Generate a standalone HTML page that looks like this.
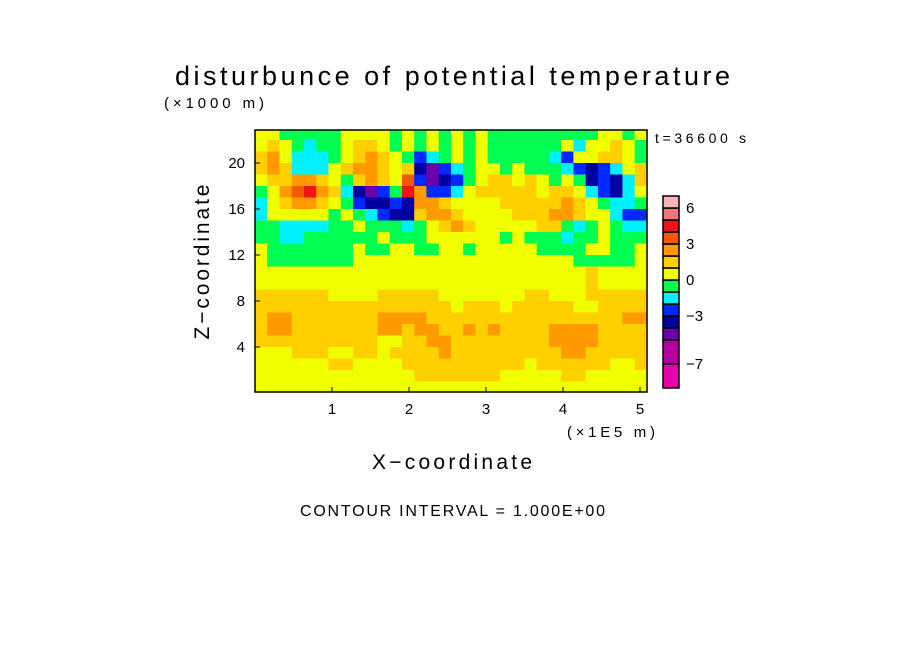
<!DOCTYPE html>
<html><head><meta charset="utf-8"><style>
body{margin:0;background:#fff;}
svg text{font-family:"Liberation Sans",sans-serif;fill:#000;}
</style></head><body>
<svg id="chart" width="904" height="654" viewBox="0 0 904 654" xmlns="http://www.w3.org/2000/svg">
<defs><clipPath id="pc"><rect x="255" y="130" width="392" height="262"/></clipPath></defs>
<text x="175" y="85" font-size="27" textLength="555" lengthAdjust="spacing">disturbunce of potential temperature</text>
<text x="164" y="108" font-size="15" textLength="100" lengthAdjust="spacing">(×1000 m)</text>
<text x="655" y="143" font-size="14" textLength="91" lengthAdjust="spacing">t=36600 s</text>
<text x="0" y="0" font-size="21" text-anchor="middle" textLength="155" lengthAdjust="spacing" transform="translate(209,262) rotate(-90)">Z−coordinate</text>
<text x="372" y="469" font-size="21" textLength="160" lengthAdjust="spacing">X−coordinate</text>
<text x="567" y="437" font-size="15" textLength="88" lengthAdjust="spacing">(×1E5 m)</text>
<text x="300" y="516" font-size="16" textLength="305" lengthAdjust="spacing">CONTOUR INTERVAL = 1.000E+00</text>
<g id="field" clip-path="url(#pc)"></g>
<g id="axes"></g>
<g id="cbar"></g>
</svg>
<script>
const xTicks=[1,2,3,4,5];
const zTicks=[4,8,12,16,20];
const cbarLevels=[-9,-7,-5,-4,-3,-2,-1,0,1,2,3,4,5,6,7];
const cbarLabels=[6,3,0,-3,-7];
const levelColors={"-8":"#e600aa","-7":"#e600aa","-6":"#b400a0","-5":"#6e00aa","-4":"#0000a0","-3":"#0028ff","-2":"#00f0ff","-1":"#00ff50","0":"#f0ff00","1":"#ffd000","2":"#ff9a00","3":"#f05a00","4":"#f01414","5":"#f07878","6":"#f5b4b4"};
const gridCols=32;
const xMax=5.09;
const zTop=23;
const fieldRows=[
[0,0,-1,-1,-1,-1,-1,0,0,0,0,-1,0,-1,0,-1,0,-1,0,-1,-1,-1,-1,-1,-1,-1,-1,-1,0,0,-1,0],
[0,1,0,-1,-2,-1,-1,0,1,1,0,-1,0,-1,0,-1,0,-1,0,-1,-1,-1,-1,-1,-1,0,-2,0,0,1,0,-1],
[1,2,0,-2,-2,-2,-1,0,1,2,1,0,-1,-3,-2,-1,0,-1,0,-1,-1,-1,-1,-1,-2,-3,0,0,1,1,0,-1],
[1,2,1,-2,-2,-2,0,1,2,2,1,0,1,-4,-5,-3,-2,-1,0,0,-1,0,-1,-1,-1,-2,-3,-4,-3,-2,0,1],
[0,1,1,2,2,1,0,-1,1,2,1,0,3,-3,-5,-4,-3,-1,0,1,1,0,1,0,-1,0,-1,-4,-3,-4,-2,1],
[-1,0,2,3,4,2,1,-2,-4,-5,-3,-1,4,2,-3,-3,-2,0,1,1,1,1,1,0,1,1,0,-2,-3,-4,-2,0],
[-2,0,1,2,2,1,0,-1,-3,-4,-4,-3,-4,2,2,1,0,0,0,0,1,1,1,1,1,2,1,0,-1,-2,-2,-1],
[-2,0,0,0,0,0,-1,0,-1,-2,-3,-4,-4,1,2,2,1,0,0,0,0,1,1,1,2,2,1,0,0,-2,-3,-3],
[-1,-1,-2,-2,-2,-2,-1,-1,0,-1,-1,-1,-2,-1,0,1,2,1,0,0,0,0,0,1,1,-1,-2,-1,0,-1,-2,-2],
[-1,-1,-2,-2,-1,-1,-1,-1,-1,-1,0,-1,-1,-1,0,0,0,0,0,0,-1,0,-1,-1,-1,-2,-1,-1,0,-1,-1,-1],
[0,-1,-1,-1,-1,-1,-1,-1,0,-1,-1,0,0,-1,-1,0,0,-1,0,0,0,0,0,-1,-1,-1,-1,0,0,-1,-1,0],
[0,-1,-1,-1,-1,-1,-1,-1,0,0,0,0,0,0,0,0,0,0,0,0,0,0,0,0,0,0,-1,-1,-1,-1,-1,0],
[0,0,0,0,0,0,0,0,0,0,0,0,0,0,0,0,0,0,0,0,0,0,0,0,0,0,0,1,0,0,0,0],
[0,0,0,0,0,0,0,0,0,0,0,0,0,0,0,0,0,0,0,0,0,0,0,0,0,0,0,1,0,0,0,0],
[1,1,1,1,1,1,0,0,0,0,1,1,1,1,1,0,0,0,0,0,0,0,1,1,0,0,0,1,1,1,1,1],
[1,1,1,1,1,1,1,1,1,1,1,1,1,1,1,1,0,1,1,1,0,1,1,1,1,1,0,0,1,1,1,1],
[1,2,2,1,1,1,1,1,1,1,2,2,2,2,1,1,1,1,1,1,1,1,1,1,1,1,1,1,1,1,2,2],
[1,2,2,1,1,1,1,1,1,1,2,2,1,2,2,1,1,2,1,2,1,1,1,1,2,2,2,2,1,1,1,1],
[1,1,1,1,1,1,1,1,1,1,0,0,1,1,2,2,1,1,1,1,1,1,1,1,2,2,2,2,1,1,1,1],
[0,0,0,1,1,1,0,0,1,1,0,1,1,1,1,2,1,1,1,1,1,1,1,1,1,2,2,1,1,1,1,1],
[0,0,0,0,0,0,1,1,0,0,0,0,1,1,1,1,1,1,1,1,1,1,0,1,1,1,1,1,1,0,0,1],
[0,0,0,0,0,0,0,0,0,0,0,0,0,1,1,1,1,1,1,1,0,0,0,0,0,1,1,0,0,0,0,0],
[0,0,0,0,0,0,0,0,0,0,0,0,0,0,0,0,0,0,0,0,0,0,0,0,0,0,0,0,0,0,0,0]
];
const NS="http://www.w3.org/2000/svg";
const X0=255,PXX=77,Y0=393,PXZ=11.5;
function xs(v){return X0+v*PXX;}
function zs(v){return Y0-v*PXZ;}
function mk(t,a){const e=document.createElementNS(NS,t);for(const k in a)e.setAttribute(k,a[k]);return e;}
const field=document.getElementById('field');
const cw=xMax/gridCols;
fieldRows.forEach((row,r)=>{
  const zHi=zTop-r, zLo=zHi-1;
  row.forEach((v,c)=>{
    const x1=xs(c*cw),x2=xs((c+1)*cw);
    const el=mk('rect',{x:x1,y:zs(zHi),width:x2-x1+0.6,height:zs(zLo)-zs(zHi)+0.6,fill:levelColors[String(v)]});
    
    
    field.appendChild(el);
  });
});
const axes=document.getElementById('axes');
const frame=mk('rect',{x:255,y:130,width:392,height:262,fill:'none',stroke:'#000','stroke-width':1.5});


axes.appendChild(frame);
xTicks.forEach(t=>{
  const l=mk('line',{x1:xs(t),x2:xs(t),y1:392,y2:387,stroke:'#000'});
  
  
  axes.appendChild(l);
  const tx=mk('text',{x:xs(t),y:414,'font-size':15,'text-anchor':'middle'});
  tx.textContent=t;
  
  
  axes.appendChild(tx);
});
zTicks.forEach(t=>{
  const l=mk('line',{x1:255,x2:260,y1:zs(t),y2:zs(t),stroke:'#000'});
  
  
  axes.appendChild(l);
  const tx=mk('text',{x:245,y:zs(t)+5,'font-size':15,'text-anchor':'end'});
  tx.textContent=t;
  
  
  axes.appendChild(tx);
});
const cbar=document.getElementById('cbar');
const CB0=280,CBP=12;
function cs(v){return CB0-v*CBP;}
for(let i=0;i<cbarLevels.length-1;i++){
  const lo=cbarLevels[i],hi=cbarLevels[i+1];
  const yTop=Math.max(cs(hi),196),yBot=Math.min(cs(lo),392);
  const key=String(lo===-9?-7:(lo===-7?-6:lo));
  const r=mk('rect',{x:663,y:yTop,width:16,height:yBot-yTop,fill:levelColors[key],stroke:'#000','stroke-width':1.5});
  
  
  cbar.appendChild(r);
}
cbarLabels.forEach(v=>{
  const tx=mk('text',{x:686,y:cs(v)+5,'font-size':15});
  tx.textContent=v<0?'−'+(-v):v;
  
  
  cbar.appendChild(tx);
});
</script>
</body></html>
